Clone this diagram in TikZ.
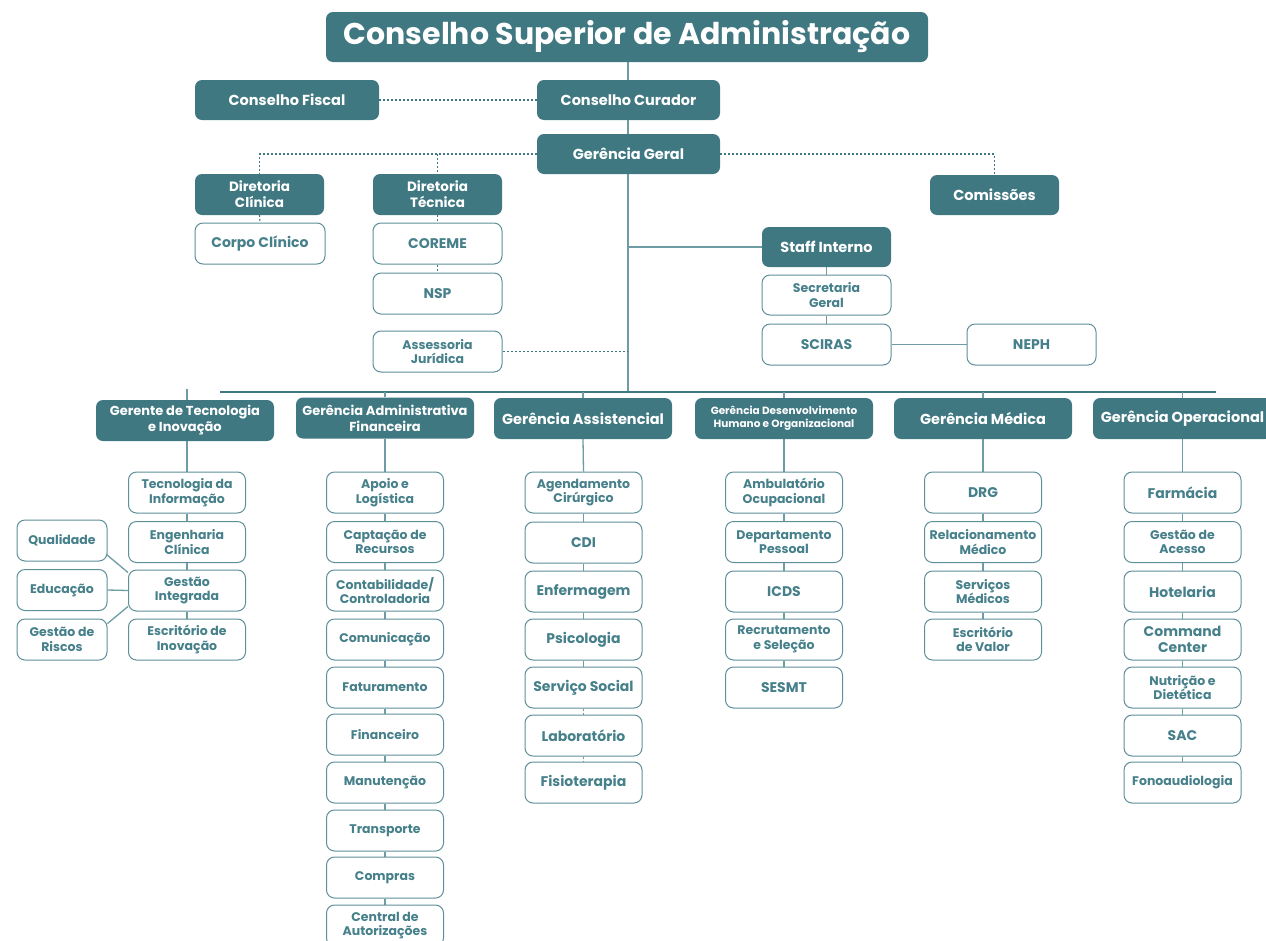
\documentclass[tikz,border=0pt]{standalone}
\usepackage{fontspec}
\setmainfont{Poppins}
\usetikzlibrary{calc}
\definecolor{dkc}{HTML}{407882}
\definecolor{txc}{HTML}{46808A}
\definecolor{bdc}{HTML}{5E9099}
\definecolor{lnc}{HTML}{6E9CA4}
\pgfdeclarelayer{bg}
\pgfsetlayers{bg,main}
\tikzset{
 dk/.style={fill=dkc, text=white, rounded corners=7pt, align=center, inner sep=0pt, font=\bfseries\fontsize{14.5}{16}\selectfont},
 wt/.style={fill=white, draw=bdc, line width=1pt, text=txc, rounded corners=8pt, align=center, inner sep=0pt, font=\bfseries\fontsize{12.5}{14.5}\selectfont, minimum width=117pt, minimum height=41pt},
 big/.style={font=\bfseries\fontsize{14}{16}\selectfont},
 sz/.style 2 args={minimum width=#1pt, minimum height=#2pt},
 link/.style={draw=lnc, line width=1.3pt},
 dotlink/.style={draw=dkc, line width=1.1pt, dash pattern=on 2pt off 2pt},
}
\begin{document}
\begin{tikzpicture}[x=1pt,y=-1pt]
\clip (0,0) rectangle (1266,940);
% top
\node[dk, sz={602}{50}, font=\bfseries\fontsize{30}{32}\selectfont] (title) at (627,37) {Conselho Superior de Administração};
\node[dk, sz={184}{40}] (cf) at (287,100) {Conselho Fiscal};
\node[dk, sz={183}{40}] (cc) at (628.5,100) {Conselho Curador};
\node[dk, sz={183}{40}] (gg) at (628.5,154) {Gerência Geral};
\node[dk, sz={129}{41}, font=\bfseries\fontsize{13.5}{16}\selectfont] (dc) at (259.5,194.5) {Diretoria\\Clínica};
\node[dk, sz={129}{41}, font=\bfseries\fontsize{13.5}{16}\selectfont] (dt) at (437.5,194.5) {Diretoria\\Técnica};
\node[dk, sz={129}{40}] (com) at (994.5,195) {Comissões};
\node[wt, big, sz={130}{41}] (cpc) at (260,243.5) {Corpo Clínico};
\node[wt, big, sz={129}{41}] (cor) at (437.5,243.5) {COREME};
\node[wt, big, sz={129}{41}] (nsp) at (437.5,293.5) {NSP};
\node[wt, sz={129}{41}] (asj) at (437.5,351.5) {Assessoria\\Jurídica};
\node[dk, sz={129}{40}] (stf) at (826.5,247) {Staff Interno};
\node[wt, sz={129}{40}] (sec) at (826.5,295) {Secretaria\\Geral};
\node[wt, big, sz={129}{41}] (sci) at (826.5,344.5) {SCIRAS};
\node[wt, big, sz={129}{41}] (nep) at (1031.5,344.5) {NEPH};
\coordinate (hub) at (628,392);
\coordinate (busL) at (220,392);
\coordinate (busR) at (1216,392);
% managers
\node[dk, sz={178}{41}, font=\bfseries\fontsize{13}{16}\selectfont] (m1) at (185,420.5) {Gerente de Tecnologia\\e Inovação};
\node[dk, sz={178}{41}, font=\bfseries\fontsize{13}{16}\selectfont] (m2) at (385,418) {Gerência Administrativa\\Financeira};
\node[dk, sz={178}{41}] (m3) at (583,418.5) {Gerência Assistencial};
\node[dk, sz={178}{41}, font=\bfseries\fontsize{10.5}{13}\selectfont] (m4) at (784,418.5) {Gerência Desenvolvimento\\Humano e Organizacional};
\node[dk, sz={178}{41}] (m5) at (983,418.5) {Gerência Médica};
\node[dk, sz={179}{41}] (m6) at (1182.5,418.5) {Gerência Operacional};
% column 1
\node[wt] (a1) at (187,492.5) {Tecnologia da\\Informação};
\node[wt] (a2) at (187,542) {Engenharia\\Clínica};
\node[wt] (a3) at (187,590.5) {Gestão\\Integrada};
\node[wt] (a4) at (187,639.5) {Escritório de\\Inovação};
\node[wt, sz={90}{41}] (q1) at (62,540.5) {Qualidade};
\node[wt, sz={90}{41}] (q2) at (62,590) {Educação};
\node[wt, sz={90}{41}] (q3) at (62,639.5) {Gestão de\\Riscos};
% column 2
\node[wt] (b1) at (385,492.5) {Apoio e\\Logística};
\node[wt] (b2) at (385,542) {Captação de\\Recursos};
\node[wt] (b3) at (385,590.5) {Contabilidade/\\Controladoria};
\node[wt] (b4) at (385,639.5) {Comunicação};
\node[wt] (b5) at (385,687.5) {Faturamento};
\node[wt] (b6) at (385,734.5) {Financeiro};
\node[wt] (b7) at (385,782.5) {Manutenção};
\node[wt] (b8) at (385,830.5) {Transporte};
\node[wt] (b9) at (385,877.5) {Compras};
\node[wt] (b10) at (385,925.5) {Central de\\Autorizações};
% column 3
\node[wt] (c1) at (583.5,492.5) {Agendamento\\Cirúrgico};
\node[wt, big] (c2) at (583.5,542.5) {CDI};
\node[wt, big] (c3) at (583.5,591.5) {Enfermagem};
\node[wt, big] (c4) at (583.5,639.5) {Psicologia};
\node[wt, big] (c5) at (583.5,687.5) {Serviço Social};
\node[wt, big] (c6) at (583.5,735.5) {Laboratório};
\node[wt, big] (c7) at (583.5,782.5) {Fisioterapia};
% column 4
\node[wt] (d1) at (784,492.5) {Ambulatório\\Ocupacional};
\node[wt] (d2) at (784,542) {Departamento\\Pessoal};
\node[wt, big] (d3) at (784,591.5) {ICDS};
\node[wt] (d4) at (784,639.5) {Recrutamento\\e Seleção};
\node[wt, big] (d5) at (784,687.5) {SESMT};
% column 5
\node[wt, big] (e1) at (983,492.5) {DRG};
\node[wt] (e2) at (983,542) {Relacionamento\\Médico};
\node[wt] (e3) at (983,591.5) {Serviços\\Médicos};
\node[wt] (e4) at (983,639.5) {Escritório\\de Valor};
% column 6
\node[wt, big] (f1) at (1182.5,492.5) {Farmácia};
\node[wt] (f2) at (1182.5,542) {Gestão de\\Acesso};
\node[wt, big] (f3) at (1182.5,591.5) {Hotelaria};
\node[wt, big] (f4) at (1182.5,639.5) {Command\\Center};
\node[wt] (f5) at (1182.5,687.5) {Nutrição e\\Dietética};
\node[wt, big] (f6) at (1182.5,735.5) {SAC};
\node[wt] (f7) at (1182.5,782.5) {Fonoaudiologia};
\begin{pgfonlayer}{bg}
 \fill[white] (0,0) rectangle (1266,940);
 \draw[link] (hub) -- (hub |- title.south);
 \draw[link, draw=dkc] (busL) -- (busR);
 \draw[link] (187,389) -- (187,400);
 \foreach \m in {m2,m3,m4,m5,m6} {\draw[link] (\m.north |- hub) -- (\m.north);}
 \draw[dotlink] (cf.east) -- (cc.west);
 \draw[dotlink] (gg.west) -| (dc.north);
 \draw[dotlink] (dt.north |- gg.west) -- (dt.north);
 \draw[dotlink] (gg.east) -| (com.north);
 \draw[dotlink] (dc.south) -- (cpc.north);
 \draw[dotlink] (dt.south) -- (cor.north);
 \draw[dotlink] (cor.south) -- (nsp.north);
 \draw[dotlink] (asj.east) -- (asj.east -| hub);
 \draw[link] (stf.west) -- (stf.west -| hub);
 \draw[link] (stf.south) -- (sec.north);
 \draw[link] (sec.south) -- (sci.north);
 \draw[link] (sci.east) -- (nep.west);
 \draw[link] (187,441) -- (a1.north);
 \draw[link] (a1.south) -- (a2.north);
 \draw[link] (a2.south) -- (a3.north);
 \draw[link] (a3.south) -- (a4.north);
 \draw[link] ($(q1.south east)+(-1,-7)$) -- ($(a3.north west)+(0,3)$);
 \draw[link] (q2.east) -- (a3.west);
 \draw[link] ($(q3.north east)+(0,5)$) -- ($(a3.south west)+(0,-5)$);
 \draw[link] (m2.south) -- (b1.north);
 \foreach \i/\j in {b1/b2,b2/b3,b3/b4,b4/b5,b5/b6,b6/b7,b7/b8,b8/b9,b9/b10} {\draw[link] (\i.south) -- (\j.north);}
 \draw[link] (m3.south) -- (c1.north);
 \foreach \i/\j in {c1/c2,c2/c3,c3/c4,c4/c5} {\draw[link] (\i.south) -- (\j.north);}
 \draw[dotlink, draw=lnc] (c5.south) -- (c6.north);
 \draw[dotlink, draw=lnc] (c6.south) -- (c7.north);
 \draw[link] (m4.south) -- (d1.north);
 \foreach \i/\j in {d1/d2,d2/d3,d3/d4,d4/d5} {\draw[link] (\i.south) -- (\j.north);}
 \draw[link] (m5.south) -- (e1.north);
 \foreach \i/\j in {e1/e2,e2/e3,e3/e4} {\draw[link] (\i.south) -- (\j.north);}
 \draw[link] (m6.south) -- (f1.north);
 \foreach \i/\j in {f1/f2,f2/f3,f3/f4,f4/f5,f5/f6,f6/f7} {\draw[link] (\i.south) -- (\j.north);}
\end{pgfonlayer}
\end{tikzpicture}
\end{document}
